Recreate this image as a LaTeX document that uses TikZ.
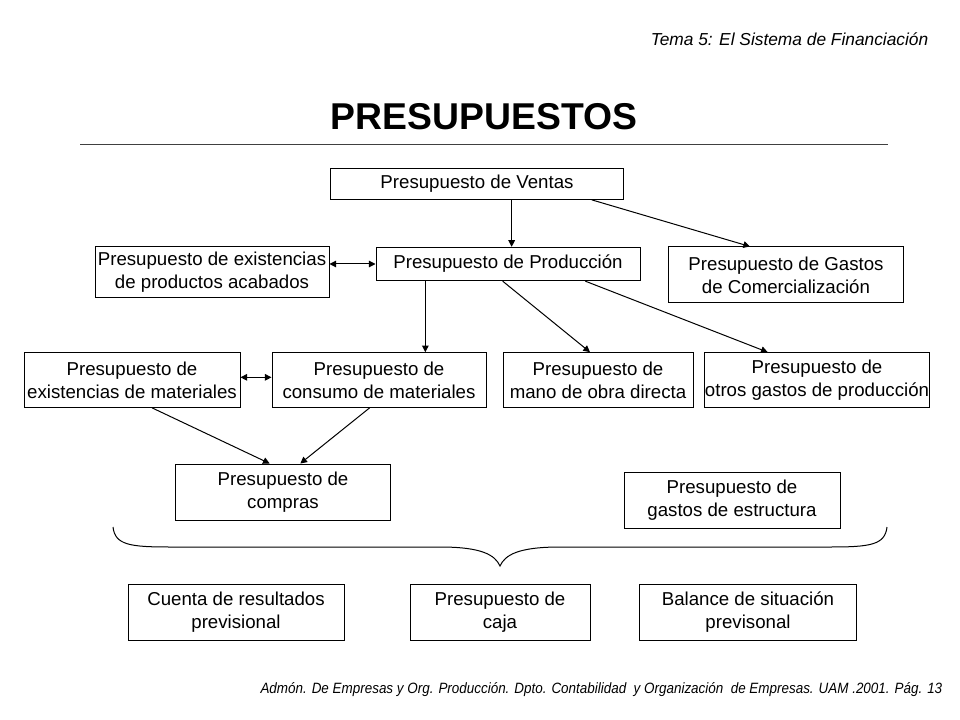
\documentclass[tikz,border=0pt]{standalone}
\usepackage{fontspec}
\setmainfont{Liberation Sans}
\newfontfamily\narrowfont[FakeStretch=0.9]{Liberation Sans}
\usetikzlibrary{arrows.meta}

\tikzset{
  box/.style={draw, line width=0.75pt, align=center, inner sep=0pt,
    font=\fontsize{14}{17}\selectfont},
  arr/.style={line width=0.75pt, -{Triangle[length=5pt,width=5pt]}},
  biarr/.style={line width=0.75pt, {Triangle[length=5pt,width=5pt]}-{Triangle[length=5pt,width=5pt]}}
}

\begin{document}
\begin{tikzpicture}[x=0.75pt,y=-0.75pt]
\useasboundingbox (0,0) rectangle (960,720);
% header and title
\node[anchor=east, font=\fontsize{13}{15}\selectfont\itshape] (tema) at (933,39) {Tema 5: El Sistema de Financiación};
\node[font=\fontsize{28}{32}\selectfont\bfseries] (titulo) at (484,117) {PRESUPUESTOS};
\draw[black!75, line width=0.75pt] (80,145) -- (888,145);
% first level
\node[box, minimum width=220pt, minimum height=23pt] (ventas) at (477,184) {Presupuesto de Ventas};
\node[box, minimum width=198pt, minimum height=25pt] (prod) at (508,264) {Presupuesto de Producción};
\node[box, minimum width=175.5pt, minimum height=38pt] (acabados) at (212,272) {Presupuesto de existencias\\de productos acabados};
\node[box, minimum width=176pt, minimum height=42pt] (comerc) at (786,275) {Presupuesto de Gastos\\de Comercialización};
% second level
\node[box, minimum width=162pt, minimum height=41pt] (matex) at (132,380) {Presupuesto de\\existencias de materiales};
\node[box, minimum width=160.5pt, minimum height=41pt] (consumo) at (379,380) {Presupuesto de\\consumo de materiales};
\node[box, minimum width=142.5pt, minimum height=41pt] (mano) at (598,380) {Presupuesto de\\mano de obra directa};
\node[box, minimum width=166.5pt, minimum height=41pt] (otros) at (817,380) {Presupuesto de\\otros gastos de producción};
% third level
\node[box, minimum width=161pt, minimum height=42pt] (compras) at (283,492) {Presupuesto de\\compras};
\node[box, minimum width=162pt, minimum height=42pt] (estruct) at (732,500) {Presupuesto de\\gastos de estructura};
% results
\node[box, minimum width=162pt, minimum height=42pt] (cuenta) at (236,612) {Cuenta de resultados\\previsional};
\node[box, minimum width=135pt, minimum height=42pt] (caja) at (500,612) {Presupuesto de\\caja};
\node[box, minimum width=163pt, minimum height=42pt] (balance) at (748,612) {Balance de situación\\previsonal};
% connectors
\draw[arr] ([xshift=26pt]ventas.south) -- ([xshift=26pt]ventas.south |- prod.north);
\draw[arr] ([xshift=86pt]ventas.south) -- ([xshift=-27pt]comerc.north);
\draw[biarr] (acabados.east |- prod.west) -- (prod.west);
\draw[arr] ([xshift=-62pt]prod.south) -- ([xshift=-62pt]prod.south |- consumo.north);
\draw[arr] ([xshift=-4pt]prod.south) -- ([xshift=-6pt]mano.north);
\draw[arr] ([xshift=58pt]prod.south) -- ([xshift=-37pt]otros.north);
\draw[biarr] ([yshift=2pt]matex.east) -- ([yshift=2pt]consumo.west);
\draw[arr] ([xshift=15pt]matex.south) -- ([xshift=-10pt]compras.north);
\draw[arr] ([xshift=-7pt]consumo.south) -- ([xshift=13pt]compras.north);
% brace
\draw[line width=0.75pt] (113,527) .. controls (115,545) and (130,547) .. (170,547) -- (440,547)
  .. controls (482,547) and (495,555) .. (500,566)
  .. controls (505,555) and (518,547) .. (560,547) -- (830,547)
  .. controls (870,547) and (885,545) .. (887,527);
% footer
\node[anchor=east, font=\narrowfont\fontsize{11.2}{13}\selectfont\itshape] (pie) at (947,690) {Admón. De Empresas y Org. Producción. Dpto. Contabilidad \ y Organización \ de Empresas. UAM .2001. Pág. 13};
\end{tikzpicture}
\end{document}
